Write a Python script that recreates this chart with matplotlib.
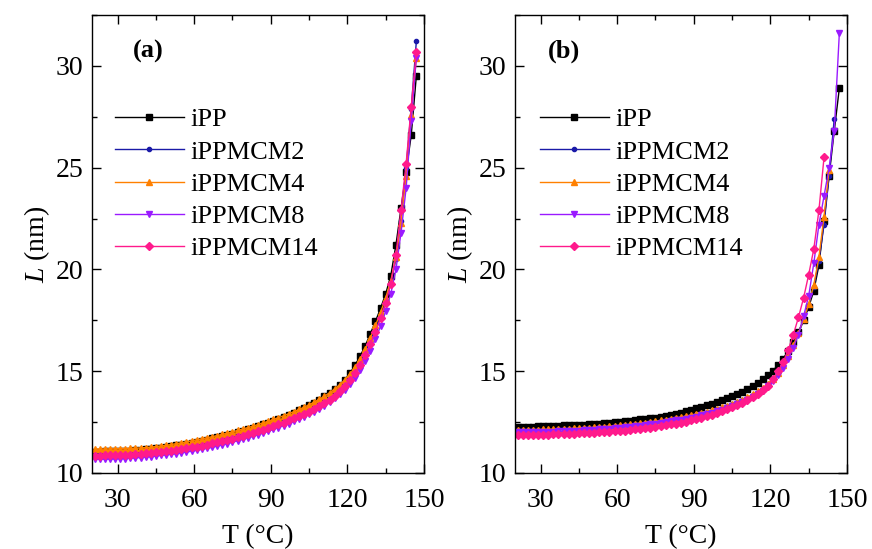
import matplotlib
matplotlib.use('Agg')
import matplotlib.pyplot as plt
from matplotlib.ticker import MultipleLocator

plt.rcParams['font.family'] = ['Liberation Serif', 'DejaVu Serif']
plt.rcParams['mathtext.fontset'] = 'custom'
plt.rcParams['mathtext.rm'] = 'Liberation Serif'
plt.rcParams['mathtext.it'] = 'Liberation Serif:italic'

# temperature grid, °C
T = [21, 23, 25, 27, 29, 31, 33, 35, 37, 39,
     41, 43, 45, 47, 49, 51, 53, 55, 57, 59,
     61, 63, 65, 67, 69, 71, 73, 75, 77, 79,
     81, 83, 85, 87, 89, 91, 93, 95, 97, 99,
     101, 103, 105, 107, 109, 111, 113, 115, 117, 119,
     121, 123, 125, 127, 129, 131, 133, 135, 137, 139,
     141, 143, 145, 147]

labels = ['iPP', 'iPPMCM2', 'iPPMCM4', 'iPPMCM8', 'iPPMCM14']

# panel (a)
a_ipp = [11.05, 11.05, 11.06, 11.06, 11.07, 11.08, 11.09, 11.10, 11.12, 11.14,
         11.16, 11.19, 11.22, 11.25, 11.28, 11.32, 11.36, 11.40, 11.44, 11.49,
         11.54, 11.59, 11.64, 11.70, 11.76, 11.82, 11.88, 11.94, 12.01, 12.08,
         12.15, 12.23, 12.31, 12.39, 12.48, 12.57, 12.66, 12.76, 12.86, 12.97,
         13.08, 13.20, 13.33, 13.46, 13.60, 13.76, 13.93, 14.12, 14.33, 14.57,
         14.90, 15.30, 15.75, 16.25, 16.85, 17.45, 18.10, 18.80, 19.70, 21.20,
         23.00, 24.80, 26.60, 29.50]
a_m2 = [10.92, 10.92, 10.93, 10.93, 10.94, 10.95, 10.96, 10.97, 10.99, 11.01,
        11.03, 11.06, 11.09, 11.12, 11.16, 11.20, 11.24, 11.28, 11.33, 11.38,
        11.43, 11.48, 11.54, 11.60, 11.66, 11.72, 11.78, 11.85, 11.92, 11.99,
        12.06, 12.14, 12.22, 12.30, 12.39, 12.48, 12.57, 12.67, 12.77, 12.88,
        12.99, 13.11, 13.24, 13.37, 13.52, 13.68, 13.85, 14.04, 14.25, 14.50,
        14.78, 15.10, 15.48, 15.95, 16.48, 17.05, 17.70, 18.40, 19.30, 20.50,
        22.40, 25.00, 27.90, 31.20]
a_m4 = [11.18, 11.18, 11.18, 11.19, 11.19, 11.20, 11.20, 11.21, 11.22, 11.23,
        11.25, 11.27, 11.30, 11.33, 11.36, 11.40, 11.44, 11.48, 11.53, 11.58,
        11.63, 11.68, 11.73, 11.78, 11.84, 11.90, 11.96, 12.02, 12.09, 12.16,
        12.23, 12.30, 12.38, 12.46, 12.54, 12.63, 12.72, 12.81, 12.91, 13.01,
        13.12, 13.23, 13.35, 13.48, 13.62, 13.77, 13.94, 14.13, 14.34, 14.58,
        14.86, 15.20, 15.60, 16.10, 16.65, 17.25, 17.90, 18.60, 19.45, 20.60,
        22.30, 24.60, 27.60, 30.40]
a_m8 = [10.67, 10.67, 10.68, 10.68, 10.69, 10.70, 10.71, 10.72, 10.74, 10.76,
        10.78, 10.80, 10.83, 10.86, 10.89, 10.92, 10.95, 10.99, 11.03, 11.07,
        11.11, 11.16, 11.21, 11.26, 11.32, 11.38, 11.44, 11.51, 11.58, 11.65,
        11.72, 11.80, 11.88, 11.96, 12.05, 12.14, 12.23, 12.33, 12.43, 12.54,
        12.65, 12.77, 12.89, 13.02, 13.16, 13.31, 13.48, 13.66, 13.87, 14.10,
        14.37, 14.68, 15.05, 15.50, 16.00, 16.58, 17.22, 17.95, 18.80, 20.00,
        21.80, 24.00, 27.30, 30.40]
a_m14 = [10.85, 10.85, 10.86, 10.86, 10.87, 10.88, 10.89, 10.90, 10.92, 10.94,
         10.96, 10.98, 11.01, 11.04, 11.07, 11.10, 11.14, 11.18, 11.22, 11.26,
         11.30, 11.35, 11.40, 11.45, 11.51, 11.57, 11.63, 11.69, 11.76, 11.83,
         11.90, 11.97, 12.05, 12.13, 12.21, 12.30, 12.39, 12.48, 12.58, 12.68,
         12.79, 12.90, 13.02, 13.15, 13.29, 13.44, 13.61, 13.80, 14.01, 14.26,
         14.55, 14.90, 15.32, 15.80, 16.35, 16.95, 17.60, 18.35, 19.30, 20.70,
         22.90, 25.20, 28.00, 30.70]

# panel (b)
b_ipp = [12.27, 12.27, 12.28, 12.28, 12.29, 12.30, 12.31, 12.32, 12.33, 12.34,
         12.35, 12.36, 12.37, 12.38, 12.39, 12.41, 12.43, 12.45, 12.47, 12.49,
         12.51, 12.54, 12.57, 12.60, 12.63, 12.66, 12.69, 12.72, 12.76, 12.80,
         12.86, 12.91, 12.97, 13.03, 13.10, 13.17, 13.25, 13.33, 13.41, 13.49,
         13.57, 13.66, 13.76, 13.87, 13.99, 14.12, 14.26, 14.42, 14.60, 14.80,
         15.03, 15.30, 15.62, 16.00, 16.45, 16.95, 17.50, 18.15, 18.95, 20.20,
         22.40, 24.60, 26.80, 28.90]
b_m2 = [12.10, 12.10, 12.10, 12.11, 12.11, 12.12, 12.12, 12.13, 12.14, 12.15,
        12.16, 12.17, 12.18, 12.19, 12.20, 12.22, 12.24, 12.26, 12.28, 12.30,
        12.32, 12.34, 12.37, 12.40, 12.43, 12.46, 12.49, 12.52, 12.56, 12.60,
        12.64, 12.68, 12.72, 12.77, 12.82, 12.87, 12.93, 12.99, 13.06, 13.13,
        13.20, 13.28, 13.37, 13.47, 13.58, 13.70, 13.83, 13.98, 14.15, 14.35,
        14.60, 14.90, 15.27, 15.72, 16.25, 16.85, 17.50, 18.25, 19.15, 20.40,
        22.20, 24.60, 27.40]
b_m4 = [12.12, 12.12, 12.12, 12.13, 12.13, 12.14, 12.14, 12.15, 12.16, 12.17,
        12.18, 12.19, 12.20, 12.21, 12.22, 12.24, 12.26, 12.28, 12.30, 12.32,
        12.34, 12.36, 12.39, 12.42, 12.45, 12.48, 12.51, 12.54, 12.58, 12.62,
        12.66, 12.70, 12.75, 12.80, 12.85, 12.90, 12.96, 13.02, 13.09, 13.16,
        13.23, 13.31, 13.40, 13.50, 13.61, 13.73, 13.86, 14.01, 14.18, 14.38,
        14.63, 14.93, 15.30, 15.75, 16.28, 16.88, 17.55, 18.30, 19.25, 20.60,
        22.60, 24.90]
b_m8 = [12.00, 12.00, 12.00, 12.01, 12.01, 12.02, 12.02, 12.03, 12.04, 12.05,
        12.06, 12.07, 12.08, 12.09, 12.10, 12.12, 12.14, 12.16, 12.18, 12.20,
        12.22, 12.24, 12.27, 12.30, 12.33, 12.36, 12.39, 12.42, 12.46, 12.50,
        12.54, 12.58, 12.62, 12.67, 12.72, 12.77, 12.83, 12.89, 12.96, 13.03,
        13.10, 13.18, 13.27, 13.37, 13.48, 13.60, 13.73, 13.88, 14.05, 14.25,
        14.50, 14.80, 15.15, 15.60, 16.15, 16.80, 17.70, 18.70, 20.30, 22.20,
        23.60, 25.00, 26.80, 31.60]
b_m14 = [11.87, 11.87, 11.87, 11.88, 11.88, 11.89, 11.89, 11.90, 11.91, 11.92,
         11.93, 11.94, 11.95, 11.96, 11.97, 11.98, 11.99, 12.00, 12.02, 12.04,
         12.06, 12.08, 12.11, 12.14, 12.17, 12.20, 12.23, 12.27, 12.31, 12.35,
         12.39, 12.43, 12.48, 12.53, 12.59, 12.65, 12.72, 12.79, 12.87, 12.95,
         13.03, 13.12, 13.22, 13.33, 13.45, 13.58, 13.72, 13.88, 14.06, 14.28,
         14.60, 15.00, 15.45, 16.05, 16.80, 17.65, 18.60, 19.75, 21.00, 22.90,
         25.50]

colors = ['#000000', '#1a1aa8', '#ff8000', '#9a1aff', '#ff1a8c']
markers = ['s', 'o', '^', 'v', 'D']
msizes = [3.8, 3.0, 5.0, 5.0, 4.0]

fig = plt.figure(figsize=(8.72, 5.49), dpi=100)
ax1 = fig.add_axes([92/872, 76/549, 332/872, 458/549])
ax2 = fig.add_axes([515/872, 76/549, 332/872, 458/549])

panels = [(ax1, [a_ipp, a_m2, a_m4, a_m8, a_m14], '(a)', 0.123, 0.069),
          (ax2, [b_ipp, b_m2, b_m4, b_m8, b_m14], '(b)', 0.10, 0.075)]

for ax, series, tag, tagx, legx in panels:
    for ys, lab, c, m, ms in zip(series, labels, colors, markers, msizes):
        ax.plot(T[:len(ys)], ys, color=c, marker=m, markersize=ms,
                linewidth=1.0, label=lab)
    ax.set_xlim(20, 150)
    ax.set_ylim(10, 32.5)
    ax.xaxis.set_major_locator(MultipleLocator(30))
    ax.xaxis.set_minor_locator(MultipleLocator(15))
    ax.yaxis.set_major_locator(MultipleLocator(5))
    ax.yaxis.set_minor_locator(MultipleLocator(2.5))
    ax.tick_params(which='both', direction='in', top=True, right=True,
                   labelsize=20, width=1.0)
    ax.tick_params(which='major', length=6.5)
    ax.tick_params(which='minor', length=3.5)
    ax.tick_params(axis='x', pad=11)
    ax.tick_params(axis='y', pad=6)
    for sp in ax.spines.values():
        sp.set_linewidth(1.0)
    ax.set_xlabel('T (°C)', fontsize=20, labelpad=8)
    ax.set_ylabel('$\\mathit{L}$ (nm)', fontsize=20, labelpad=3)
    ax.text(tagx, 0.92, tag, transform=ax.transAxes, fontsize=19,
            fontweight='bold', va='center', ha='left')
    ax.legend(loc='center left', bbox_to_anchor=(legx, 0.631), frameon=False,
              fontsize=19, handlelength=2.6, handletextpad=0.25,
              labelspacing=0.33, borderpad=0, borderaxespad=0)

fig.savefig('out.png', dpi=100)
